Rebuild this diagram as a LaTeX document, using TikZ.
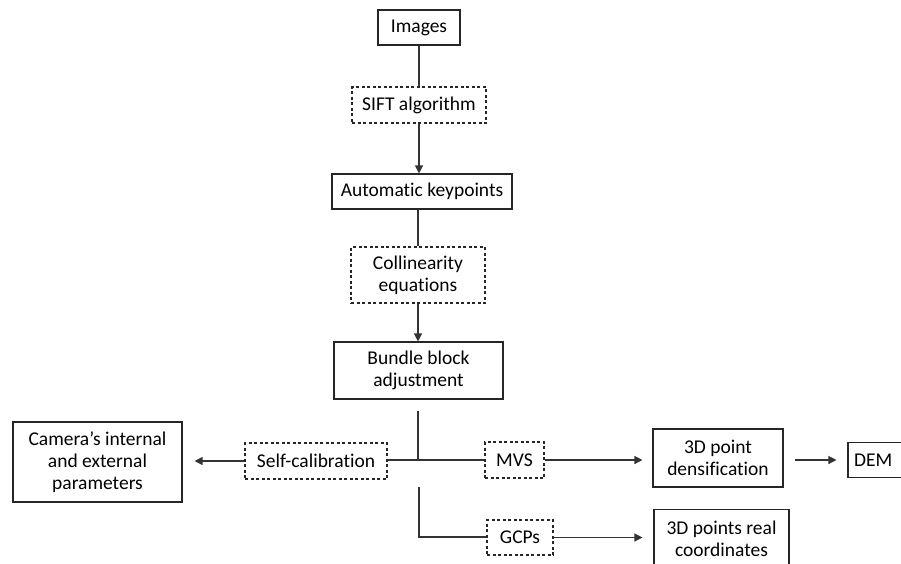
\documentclass[tikz,border=0pt]{standalone}
\usepackage{fontspec}
\setmainfont[Ligatures=NoCommon]{Carlito}
\usetikzlibrary{arrows.meta}
\begin{document}
\begin{tikzpicture}[x=1pt,y=-1pt,
  box/.style={draw=black!85,line width=1.1pt,align=center,inner sep=0pt,
    font=\fontsize{19.5}{22}\selectfont,text=black},
  dbox/.style={box,dash pattern=on 3pt off 2.5pt,line width=1.05pt},
  conn/.style={draw=black!80,line width=1.2pt},
  arr/.style={conn,-{Triangle[length=8pt,width=8pt]}}]
\useasboundingbox (0,0) rectangle (901,563);
\clip (0,0) rectangle (901,563);
\node[box,minimum width=82pt,minimum height=35pt] (img) at (419,27.5) {Images};
\node[dbox,minimum width=134pt,minimum height=36pt] (sift) at (419,105) {SIFT algorithm};
\node[box,minimum width=180pt,minimum height=35pt] (ak) at (422,191.5) {Automatic keypoints};
\node[dbox,minimum width=134pt,minimum height=56pt] (coll) at (418,275) {Collinearity\\equations};
\node[box,minimum width=169pt,minimum height=57pt] (bba) at (418.5,370.5) {Bundle block\\adjustment};
\node[box,minimum width=169pt,minimum height=80pt] (cam) at (97.5,462) {Camera’s internal\\and external\\parameters};
\node[dbox,minimum width=142pt,minimum height=36pt] (self) at (316,461) {Self-calibration};
\node[dbox,minimum width=59pt,minimum height=36pt] (mvs) at (514.5,460) {MVS};
\node[box,minimum width=130pt,minimum height=58pt] (dens) at (718,458) {3D point\\densification};
\node[box,minimum width=62pt,minimum height=35pt,text width=60pt,align=left] (dem) at (879,460) {\hspace*{5pt}DEM};
\node[dbox,minimum width=66pt,minimum height=35pt] (gcp) at (520,537.5) {GCPs};
\node[box,minimum width=135pt,minimum height=58pt,anchor=north] (real) at (721.5,509) {3D points real\\coordinates};
\coordinate (j1) at (418,411);
\coordinate (j2) at (418,460);
\coordinate (j3) at (419,487);
\coordinate (j4) at (419,537);
\draw[conn] (img.south) -- (img.south |- sift.north);
\draw[arr] (sift.south) -- (sift.south |- ak.north);
\draw[conn] (coll.north |- ak.south) -- (coll.north);
\draw[arr] (coll.south) -- (coll.south |- bba.north);
\draw[conn] (j1) -- (j2);
\draw[conn] (self.east |- j2) -- (j2) -- (mvs.west |- j2);
\draw[arr,shorten >=12pt] (self.west) -- (cam.east |- self.west);
\draw[arr,shorten >=10pt] (mvs.east) -- (dens.west |- mvs.east);
\draw[arr,shorten <=11pt,shorten >=11pt] (dens.east |- dem.west) -- (dem.west);
\draw[conn] (j3) -- (j4) -- (gcp.west |- j4);
\draw[arr,shorten >=11pt] (gcp.east) -- (real.west |- gcp.east);
\end{tikzpicture}
\end{document}
